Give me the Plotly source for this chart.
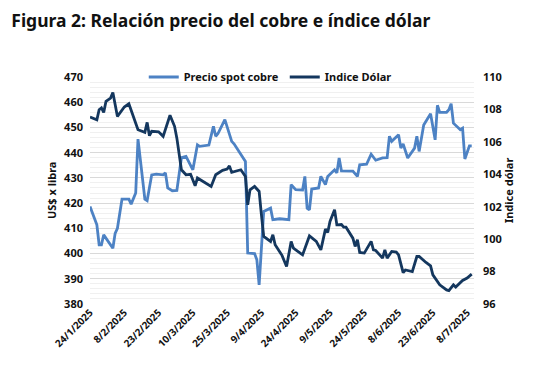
import plotly.graph_objects as go

# Copper spot price (US$ cents per lb)
copper_dates = [
    "2025-01-24", "2025-01-27", "2025-01-28", "2025-01-29", "2025-01-30", "2025-02-03",
    "2025-02-04", "2025-02-05", "2025-02-07", "2025-02-10", "2025-02-11", "2025-02-13",
    "2025-02-14", "2025-02-17", "2025-02-18", "2025-02-20", "2025-02-22", "2025-02-25",
    "2025-02-26", "2025-02-27", "2025-03-01", "2025-03-03", "2025-03-05", "2025-03-07",
    "2025-03-10", "2025-03-12", "2025-03-13", "2025-03-17", "2025-03-19", "2025-03-20",
    "2025-03-21", "2025-03-24", "2025-03-27", "2025-03-28", "2025-04-02", "2025-04-03",
    "2025-04-06", "2025-04-07", "2025-04-08", "2025-04-10", "2025-04-13", "2025-04-14",
    "2025-04-17", "2025-04-21", "2025-04-22", "2025-04-24", "2025-04-27", "2025-04-28",
    "2025-04-29", "2025-04-30", "2025-05-01", "2025-05-04", "2025-05-05", "2025-05-07",
    "2025-05-08", "2025-05-11", "2025-05-12", "2025-05-13", "2025-05-14", "2025-05-19",
    "2025-05-21", "2025-05-22", "2025-05-25", "2025-05-27", "2025-05-29", "2025-06-01",
    "2025-06-03", "2025-06-04", "2025-06-05", "2025-06-08", "2025-06-09", "2025-06-10",
    "2025-06-12", "2025-06-15", "2025-06-16", "2025-06-17", "2025-06-19", "2025-06-22",
    "2025-06-24", "2025-06-25", "2025-06-26", "2025-06-29", "2025-06-30", "2025-07-01",
    "2025-07-02", "2025-07-05", "2025-07-06", "2025-07-07", "2025-07-09", "2025-07-10",
]
copper_values = [
    418.7, 411.4, 403.5, 403.5, 407.4, 402.1,
    408.0, 410.0, 421.6, 421.6, 419.6, 424.0,
    445.4, 421.6, 421.0, 431.2, 431.5, 431.2,
    432.0, 426.0, 424.9, 425.0, 438.0, 438.5,
    433.2, 443.1, 442.5, 443.0, 450.4, 446.5,
    447.6, 453.1, 444.5, 443.5, 436.5, 400.2,
    400.0, 397.5, 387.6, 416.7, 418.0, 413.4,
    413.8, 413.4, 427.3, 425.3, 425.2, 430.6,
    418.0, 417.3, 425.6, 426.0, 430.6, 427.3,
    430.6, 433.2, 432.0, 437.9, 432.8, 432.7,
    430.6, 435.2, 435.4, 439.4, 437.0, 437.9,
    438.0, 446.5, 444.5, 447.1, 441.8, 443.5,
    437.9, 441.8, 446.5, 440.5, 451.0, 455.4,
    445.1, 458.8, 456.0, 456.0, 457.0, 459.4,
    451.7, 449.1, 449.7, 437.5, 442.7, 442.7,
]

# Dollar index (DXY)
dxy_dates = [
    "2025-01-24", "2025-01-27", "2025-01-28", "2025-01-29", "2025-01-30", "2025-01-31",
    "2025-02-02", "2025-02-03", "2025-02-05", "2025-02-08", "2025-02-10", "2025-02-11",
    "2025-02-14", "2025-02-17", "2025-02-18", "2025-02-19", "2025-02-20", "2025-02-23",
    "2025-02-25", "2025-02-28", "2025-03-02", "2025-03-03", "2025-03-05", "2025-03-07",
    "2025-03-09", "2025-03-11", "2025-03-12", "2025-03-18", "2025-03-20", "2025-03-23",
    "2025-03-25", "2025-03-26", "2025-03-27", "2025-03-31", "2025-04-02", "2025-04-03",
    "2025-04-04", "2025-04-06", "2025-04-08", "2025-04-09", "2025-04-10", "2025-04-13",
    "2025-04-14", "2025-04-15", "2025-04-18", "2025-04-20", "2025-04-22", "2025-04-23",
    "2025-04-27", "2025-04-30", "2025-05-03", "2025-05-05", "2025-05-07", "2025-05-08",
    "2025-05-09", "2025-05-11", "2025-05-12", "2025-05-14", "2025-05-15", "2025-05-16",
    "2025-05-19", "2025-05-20", "2025-05-21", "2025-05-22", "2025-05-24", "2025-05-27",
    "2025-05-28", "2025-05-29", "2025-06-01", "2025-06-02", "2025-06-03", "2025-06-05",
    "2025-06-07", "2025-06-08", "2025-06-10", "2025-06-11", "2025-06-14", "2025-06-16",
    "2025-06-17", "2025-06-20", "2025-06-22", "2025-06-23", "2025-06-25", "2025-06-26",
    "2025-06-29", "2025-06-30", "2025-07-02", "2025-07-03", "2025-07-06", "2025-07-08",
    "2025-07-10",
]
dxy_values = [
    107.53, 107.36, 107.98, 108.09, 107.82, 108.50,
    108.70, 109.05, 107.57, 108.15, 108.35, 107.98,
    106.75, 106.59, 107.20, 106.38, 106.65, 106.62,
    106.34, 107.64, 106.96, 106.23, 104.28, 103.97,
    104.00, 103.29, 103.77, 103.25, 103.97, 104.24,
    104.32, 104.52, 104.12, 104.28, 103.87, 102.12,
    103.04, 103.25, 102.94, 101.50, 100.17, 99.86,
    100.27, 99.65, 99.00, 98.31, 99.86, 99.44,
    99.03, 100.20, 99.86, 99.34, 100.62, 100.41,
    101.09, 101.81, 100.88, 100.90, 100.74, 100.74,
    100.06, 99.55, 99.96, 99.18, 99.14, 99.86,
    99.34, 99.30, 98.83, 99.34, 98.83, 99.24,
    99.20, 99.03, 97.94, 98.10, 98.00, 98.93,
    98.93, 98.56, 98.35, 97.80, 97.33, 97.18,
    96.87, 96.83, 97.18, 97.05, 97.45, 97.60,
    97.84,
]

tick_dates = ["2025-01-24", "2025-02-08", "2025-02-23", "2025-03-10", "2025-03-25", "2025-04-09",
              "2025-04-24", "2025-05-09", "2025-05-24", "2025-06-08", "2025-06-23", "2025-07-08"]
tick_labels = ["24/1/2025", "8/2/2025", "23/2/2025", "10/3/2025", "25/3/2025", "9/4/2025",
               "24/4/2025", "9/5/2025", "24/5/2025", "8/6/2025", "23/6/2025", "8/7/2025"]

FONT = "Noto Sans"
COPPER_COLOR = "#4d82c4"
DXY_COLOR = "#14375e"

fig = go.Figure()
fig.add_trace(go.Scatter(x=copper_dates, y=copper_values, name="Precio spot cobre",
                         mode="lines", line=dict(color=COPPER_COLOR, width=2.8), yaxis="y"))
fig.add_trace(go.Scatter(x=dxy_dates, y=dxy_values, name="Indice Dólar",
                         mode="lines", line=dict(color=DXY_COLOR, width=2.8), yaxis="y2"))

fig.update_layout(
    width=549, height=365,
    margin=dict(l=82, r=83, t=69, b=69),
    paper_bgcolor="white", plot_bgcolor="white",
    font=dict(family=FONT, color="#1a1a1a"),
    title=dict(text="<b>Figura 2: Relación precio del cobre e índice dólar</b>",
               x=0.006, xanchor="left", y=0.965, yanchor="middle",
               font=dict(family=FONT, size=17.5, color="#111111")),
    showlegend=True,
    legend=dict(orientation="h", x=0.14, y=1.0, xanchor="left", yanchor="middle",
                font=dict(family=FONT, size=11, color="#111111", weight="bold"),
                bgcolor="rgba(0,0,0,0)", itemwidth=30, tracegroupgap=0,
                entrywidth=96),
    xaxis=dict(type="date", range=["2025-01-24", "2025-07-11"],
               tickmode="array", tickvals=tick_dates, ticktext=tick_labels,
               tickangle=-45, tickfont=dict(family=FONT, size=10, color="#111111", weight="bold"),
               showgrid=False, showline=False, zeroline=False, ticks=""),
    yaxis=dict(range=[380, 470], dtick=10, tickfont=dict(family=FONT, size=11, color="#111111", weight="bold"),
               showgrid=True, gridcolor="#d9d9d9", gridwidth=1, zeroline=False, showline=False,
               ticks="", ticklabelstandoff=6,
               minor=dict(dtick=2, showgrid=True, gridcolor="#f0f0f0", gridwidth=1)),
    yaxis2=dict(range=[96, 110], dtick=2, overlaying="y", side="right",
                tickfont=dict(family=FONT, size=11, color="#111111", weight="bold"),
                showgrid=False, zeroline=False, showline=False, ticks="", ticklabelstandoff=8),
    annotations=[
        dict(text="<b>US$ x libra</b>", xref="paper", yref="paper", x=-0.1, y=0.5,
             xanchor="center", yanchor="middle", textangle=-90, showarrow=False,
             font=dict(family=FONT, size=11, color="#111111")),
        dict(text="<b>Indice dólar</b>", xref="paper", yref="paper", x=1.09, y=0.5,
             xanchor="center", yanchor="middle", textangle=-90, showarrow=False,
             font=dict(family=FONT, size=11, color="#111111")),
    ],
)

fig.write_html("out.html")
